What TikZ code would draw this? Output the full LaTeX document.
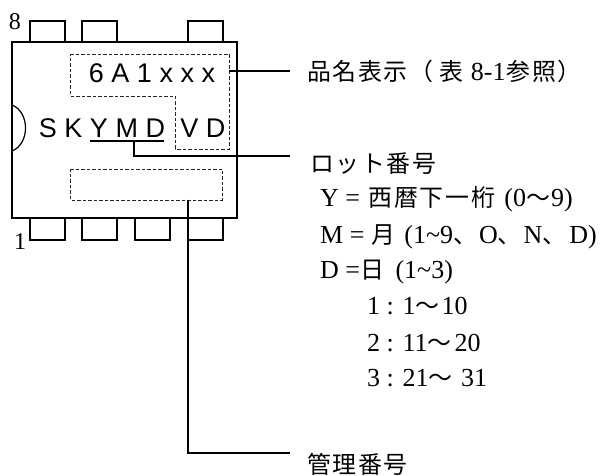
\documentclass[tikz,border=0pt]{standalone}
\usepackage{fontspec}
\setmainfont{Liberation Serif}
\setsansfont{Liberation Sans}
\newfontfamily\jpfont{Noto Sans CJK JP}[Scale=0.92,LetterSpace=7]
\usetikzlibrary{calc}

\tikzset{
	pin/.style={draw,line width=1.2pt},
	mark area/.style={draw,dash pattern=on 3.5pt off 2pt,line width=0.6pt,black!85},
	leader/.style={draw,line width=1.2pt},
	chip text/.style={font=\sffamily\fontsize{27}{27}\selectfont,inner sep=0pt},
	pin number/.style={font=\fontsize{24}{24}\selectfont,anchor=base,inner sep=0pt},
	note/.style={font=\fontsize{26}{26}\selectfont,anchor=base west,inner sep=0pt},
}

\begin{document}
\begin{tikzpicture}[x=1pt,y=-1pt]
	\useasboundingbox (0, 0) rectangle (606, 476);

	% leads
	\foreach \x in {30, 82, 188} {
		\draw[pin] (\x, 42) -- (\x, 21) -- ++(35, 0) -- ++(0, 21);
	}
	\foreach \x in {30, 82, 135, 188} {
		\draw[pin] (\x, 218) -- (\x, 240) -- ++(35, 0) -- ++(0, -22);
	}

	% package
	\draw[line width=1.2pt] (12, 42) rectangle (237, 218);
	\draw[line width=1.2pt] (12, 105) .. controls (30, 112) and (30, 144) .. (12, 151);

	% marking areas
	\coordinate (nameEdge) at (229, 71);
	\coordinate (mgmtEdge) at (188, 200);
	\draw[mark area] (70, 54) -- (229, 54) -- (229, 149) -- (175, 149) -- (175, 96) -- (70, 96) -- cycle;
	\draw[mark area] (70, 169) -- (222, 169) -- (222, 200) -- (70, 200) -- cycle;

	\node[pin number] (pinEight) at (15, 30) {8};
	\node[pin number] (pinOne) at (20, 250) {1};

	\node[chip text,anchor=base] (nameText) at (152, 83) {6 A 1 x x x};
	\node[chip text,anchor=base] (lotText) at (102, 138) {S K Y M D};
	\node[chip text,anchor=base] (vdText) at (203, 138) {V D};

	\coordinate (lotLeft) at (90, 141);
	\coordinate (lotRight) at (164, 141);
	\coordinate (lotTap) at (134, 141);
	\draw[line width=1.2pt] (lotLeft) -- (lotRight);

	% labels
	\node[note] (nameLabel) at (307, 81) {{\jpfont 品名表示（\kern6pt 表}\kern1pt\ 8-1\kern1pt{\jpfont 参照）}};
	\node[note] (lotLabel) at (310, 173) {\jpfont ロット番号};
	\node[note] (yearLabel) at (320, 207) {Y =\kern2pt\ {\jpfont 西暦下一桁}\kern3pt\ (0{\jpfont ～}\kern1pt 9)};
	\node[note] (monthLabel) at (320, 244) {M =\kern1pt\ {\jpfont 月}\kern2pt\ (1\textasciitilde9{\jpfont 、}\kern2pt O{\jpfont 、}\kern2pt N{\jpfont 、}\kern3pt D)};
	\node[note] (dayLabel) at (320, 279) {D ={\jpfont 日}\kern5pt\ (1\textasciitilde3)};
	\node[note] (dayOne) at (367, 315) {1 : 1{\jpfont ～}\kern2pt 10};
	\node[note] (dayTwo) at (367, 351) {2 : 11{\jpfont ～}\kern3pt 20};
	\node[note] (dayThree) at (367, 386) {3 : 21{\jpfont ～}\kern2pt\ 31};
	\node[note] (mgmtLabel) at (307, 473) {\jpfont 管理番号};

	% leader lines
	\draw[leader] (nameEdge) -- (290, 71);
	\draw[leader] (lotTap) -- (134, 156) -- (290, 156);
	\draw[leader] (mgmtEdge) -- (188, 453) -- (290, 453);
\end{tikzpicture}
\end{document}
